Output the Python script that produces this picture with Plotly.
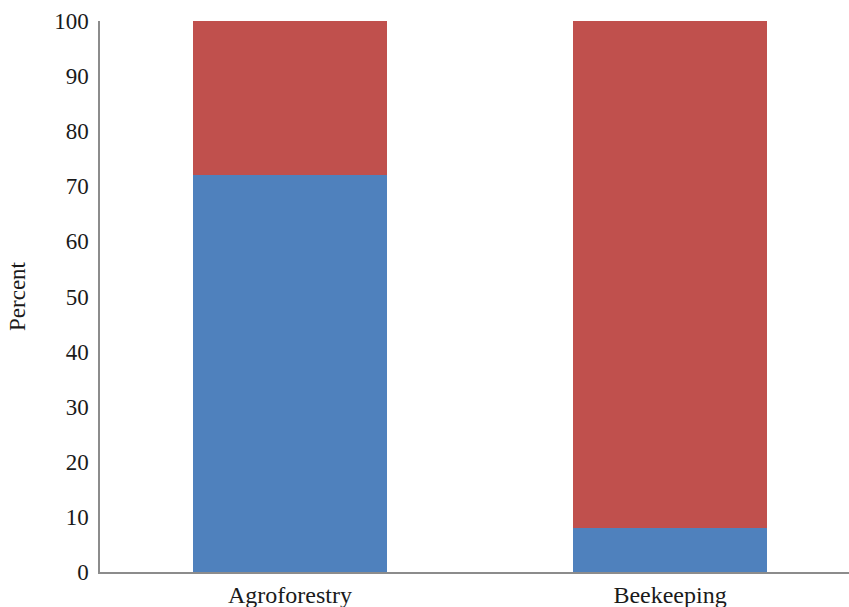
import plotly.graph_objects as go

categories = ["Agroforestry", "Beekeeping"]
lower_values = [72, 8]     # blue segment, percent
upper_values = [28, 92]    # red segment, percent
y_ticks = [0, 10, 20, 30, 40, 50, 60, 70, 80, 90, 100]

BLUE = "#4F81BD"
RED = "#C0504D"
FONT = "Liberation Serif, Times New Roman, serif"

fig = go.Figure()
fig.add_trace(go.Bar(x=categories, y=lower_values, marker=dict(color=BLUE, line=dict(width=0)),
                     width=0.513, showlegend=False))
fig.add_trace(go.Bar(x=categories, y=upper_values, marker=dict(color=RED, line=dict(width=0)),
                     width=0.513, showlegend=False))

fig.update_layout(
    barmode="stack",
    width=849, height=607,
    margin=dict(l=100, r=0, t=21, b=35),
    paper_bgcolor="white", plot_bgcolor="white",
    font=dict(family=FONT, size=23, color="#1a1a1a"),
    xaxis=dict(
        range=[-0.5, 1.471], showgrid=False, zeroline=False,
        showline=True, linecolor="#8c8c8c", linewidth=1.5,
        ticks="", tickfont=dict(size=24),
    ),
    yaxis=dict(
        range=[0, 100], tickvals=y_ticks, showgrid=False, zeroline=False,
        showline=True, linecolor="#8c8c8c", linewidth=1.5,
        ticks="", tickfont=dict(size=23), ticklabelstandoff=5,
        title=dict(text="Percent", font=dict(size=23), standoff=22),
    ),
)

fig.write_html("out.html")
